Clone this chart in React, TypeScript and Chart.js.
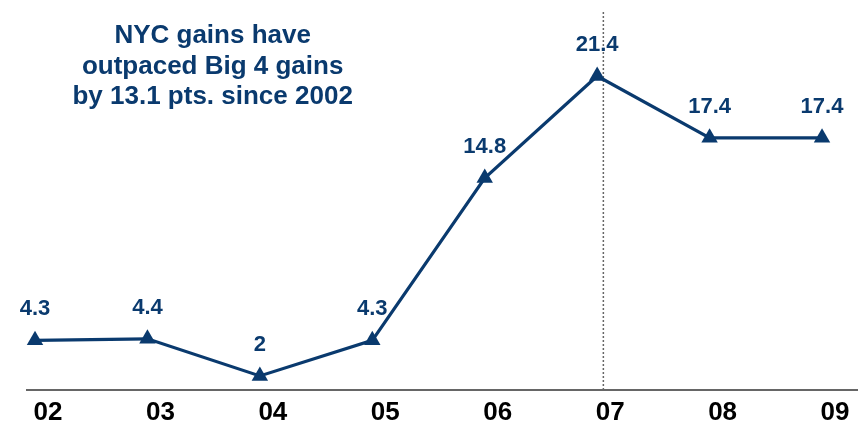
import React, { useEffect, useRef } from "react";
import { Chart, registerables } from "chart.js";

Chart.register(...registerables);

const categories = ["02", "03", "04", "05", "06", "07", "08", "09"];
const values = [4.3, 4.4, 2, 4.3, 14.8, 21.4, 17.4, 17.4];
const annotationLines = ["NYC gains have", "outpaced Big 4 gains", "by 13.1 pts. since 2002"];
const markerIndex = 5.055; // dotted reference line just right of '07'

const NAVY = "#0a3a6e";
const FONT = "'Liberation Sans', Arial, sans-serif";

export default function App() {
  const ref = useRef<HTMLCanvasElement | null>(null);

  useEffect(() => {
    if (!ref.current) return;
    const yMin = 1.09;
    const yMax = 25.67;

    const labelsPlugin = {
      id: "labelsPlugin",
      afterDatasetsDraw(chart: any) {
        const ctx = chart.ctx;
        const meta = chart.getDatasetMeta(1);
        ctx.save();
        ctx.fillStyle = NAVY;
        ctx.font = `bold 22px ${FONT}`;
        ctx.textAlign = "center";
        ctx.textBaseline = "alphabetic";
        meta.data.forEach((pt: any, i: number) => {
          ctx.fillText(String(values[i]), pt.x, pt.y - 25);
        });
        ctx.font = `bold 26px ${FONT}`;
        const xs = chart.scales.x;
        const cx = xs.getPixelForValue(1.58);
        const baselines = [43, 74, 104];
        annotationLines.forEach((t, i) => ctx.fillText(t, cx, baselines[i]));
        ctx.restore();
      },
    };

    const chart = new Chart(ref.current, {
      type: "line",
      data: {
        datasets: [
          {
            data: [
              { x: markerIndex, y: yMin },
              { x: markerIndex, y: yMax },
            ],
            borderColor: "#666666",
            borderWidth: 1.5,
            borderDash: [2, 2],
            pointRadius: 0,
            clip: false,
            order: 2,
          } as any,
          {
            data: values.map((v, i) => ({ x: i, y: v })),
            borderColor: NAVY,
            backgroundColor: NAVY,
            borderWidth: 3.2,
            pointStyle: "triangle",
            pointRadius: 9.5,
            pointBorderWidth: 0,
            pointBackgroundColor: NAVY,
            clip: false,
            order: 1,
          } as any,
        ],
      },
      options: {
        animation: false,
        responsive: true,
        maintainAspectRatio: false,
        layout: { padding: { left: 27, right: 11, top: 10, bottom: 0 } },
        plugins: {
          legend: { display: false },
          tooltip: { enabled: false },
          title: { display: false },
        },
        scales: {
          x: {
            type: "linear",
            min: -0.0712,
            max: 7.311,
            grid: { display: false, drawTicks: false },
            border: { display: true, color: "#666666", width: 2 },
            afterBuildTicks: (scale: any) => {
              scale.ticks = categories.map((_, i) => ({ value: i }));
            },
            afterFit: (scale: any) => {
              scale.height = 36;
            },
            ticks: {
              autoSkip: false,
              maxRotation: 0,
              padding: 7,
              labelOffset: 13,
              color: "#000000",
              font: { family: FONT, size: 26, weight: "bold" },
              callback: (v: any) => categories[Math.round(Number(v))] ?? "",
            },
          },
          y: {
            type: "linear",
            display: false,
            min: yMin,
            max: yMax,
          },
        },
      },
      plugins: [labelsPlugin],
    });
    return () => chart.destroy();
  }, []);

  return (
    <div style={{ position: "absolute", left: 0, top: 0, width: 868, height: 426, background: "#fff" }}>
      <canvas ref={ref} />
    </div>
  );
}
